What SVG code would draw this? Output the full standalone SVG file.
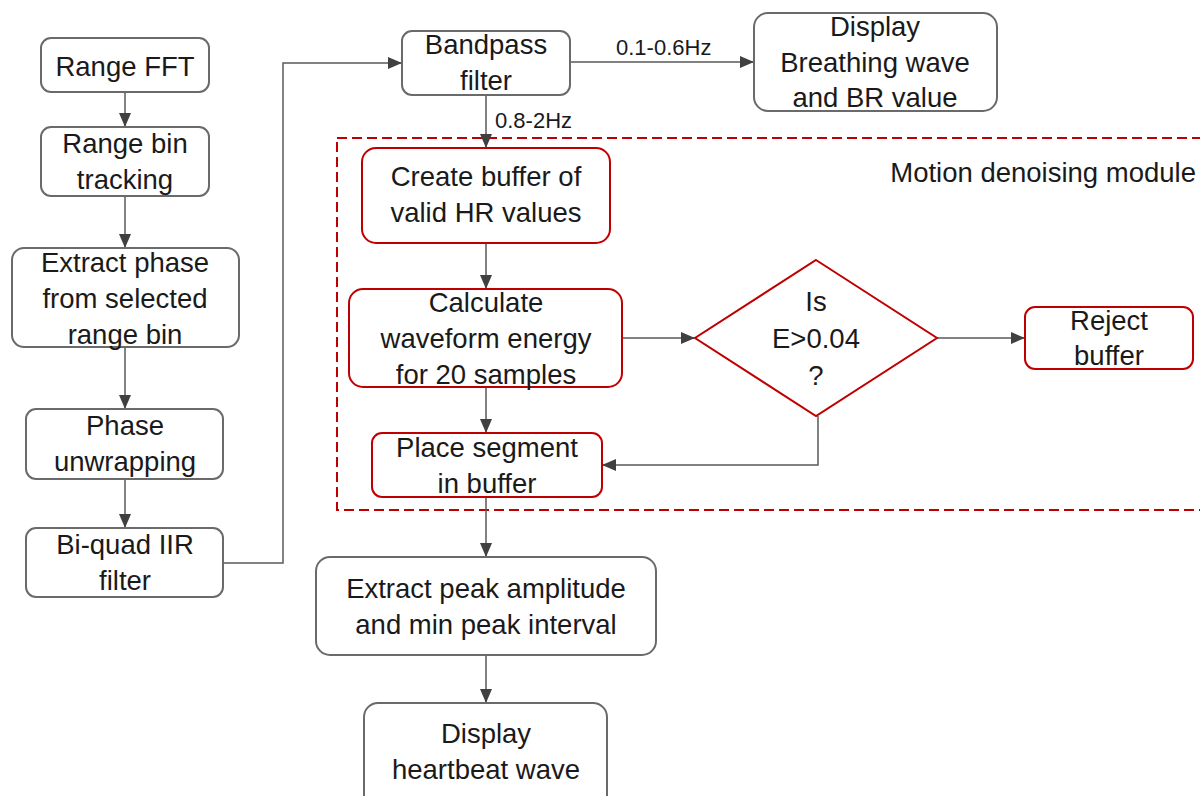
<svg xmlns="http://www.w3.org/2000/svg" width="1200" height="796" viewBox="0 0 1200 796">
<style>
.n{fill:#fff;stroke:#6a6a6a;stroke-width:2}
.r{fill:#fff;stroke:#c00000;stroke-width:2}
.t{font-family:"Liberation Sans",Arial,sans-serif;font-size:27.5px;fill:#1a1a1a;text-anchor:middle}
.s{font-family:"Liberation Sans",Arial,sans-serif;font-size:22px;fill:#1a1a1a}
.c{fill:none;stroke:#595959;stroke-width:1.5}
</style>
<defs>
<marker id="a" markerUnits="userSpaceOnUse" markerWidth="14" markerHeight="14" refX="14" refY="7" orient="auto">
<path d="M0,1 L14,7 L0,13 Z" fill="#404040"/>
</marker>
</defs>
<rect id="module" x="337" y="138" width="880" height="372" fill="none" stroke="#c00000" stroke-width="2" stroke-dasharray="10,5"/>
<text class="t" x="1196" y="182" style="text-anchor:end">Motion denoising module</text>
<g id="connectors">
<path class="c" d="M125,92 V127" marker-end="url(#a)"/>
<path class="c" d="M125,196 V248" marker-end="url(#a)"/>
<path class="c" d="M125,347 V409" marker-end="url(#a)"/>
<path class="c" d="M125,479 V528" marker-end="url(#a)"/>
<path class="c" d="M223,563 H283 V63 H402" marker-end="url(#a)"/>
<path class="c" d="M570,62 H754" marker-end="url(#a)"/>
<text class="s" x="616" y="55">0.1-0.6Hz</text>
<path class="c" d="M486,95 V148" marker-end="url(#a)"/>
<text class="s" x="495" y="128">0.8-2Hz</text>
<path class="c" d="M486,243 V289" marker-end="url(#a)"/>
<path class="c" d="M622,338 H695" marker-end="url(#a)"/>
<path class="c" d="M937,338 H1025" marker-end="url(#a)"/>
<path class="c" d="M818,416 V465 H602" marker-end="url(#a)"/>
<path class="c" d="M486,387 V433" marker-end="url(#a)"/>
<path class="c" d="M486,497 V557" marker-end="url(#a)"/>
<path class="c" d="M486,655 V703" marker-end="url(#a)"/>
</g>
<g id="range-fft"><rect class="n" x="41" y="38" width="168" height="54" rx="10"/><text class="t" x="125" y="76">Range FFT</text></g>
<g id="range-bin"><rect class="n" x="41" y="127" width="168" height="69" rx="10"/><text class="t" x="125" y="153">Range bin</text><text class="t" x="125" y="189">tracking</text></g>
<g id="extract-phase"><rect class="n" x="12" y="248" width="227" height="99" rx="12"/><text class="t" x="125" y="272">Extract phase</text><text class="t" x="125" y="308">from selected</text><text class="t" x="125" y="344">range bin</text></g>
<g id="phase-unwrap"><rect class="n" x="26" y="409" width="197" height="70" rx="10"/><text class="t" x="125" y="435">Phase</text><text class="t" x="125" y="471">unwrapping</text></g>
<g id="biquad"><rect class="n" x="26" y="528" width="197" height="69" rx="10"/><text class="t" x="125" y="554">Bi-quad IIR</text><text class="t" x="125" y="590">filter</text></g>
<g id="bandpass"><rect class="n" x="402" y="31" width="168" height="64" rx="10"/><text class="t" x="486" y="54">Bandpass</text><text class="t" x="486" y="90">filter</text></g>
<g id="display-br"><rect class="n" x="754" y="13" width="243" height="98" rx="14"/><text class="t" x="875" y="36">Display</text><text class="t" x="875" y="72">Breathing wave</text><text class="t" x="875" y="107">and BR value</text></g>
<g id="create-buffer"><rect class="r" x="362" y="148" width="248" height="95" rx="14"/><text class="t" x="486" y="186">Create buffer of</text><text class="t" x="486" y="222">valid HR values</text></g>
<g id="calculate"><rect class="r" x="349" y="289" width="273" height="98" rx="14"/><text class="t" x="486" y="312">Calculate</text><text class="t" x="486" y="348">waveform energy</text><text class="t" x="486" y="384">for 20 samples</text></g>
<g id="decision"><polygon class="r" points="816,260 937,338 816,416 695,338"/><text class="t" x="816" y="311">Is</text><text class="t" x="816" y="348">E&gt;0.04</text><text class="t" x="816" y="385">?</text></g>
<g id="reject"><rect class="r" x="1025" y="307" width="168" height="62" rx="10"/><text class="t" x="1109" y="330">Reject</text><text class="t" x="1109" y="365">buffer</text></g>
<g id="place-segment"><rect class="r" x="372" y="433" width="230" height="64" rx="10"/><text class="t" x="487" y="457">Place segment</text><text class="t" x="487" y="493">in buffer</text></g>
<g id="extract-peak"><rect class="n" x="316" y="557" width="340" height="98" rx="14"/><text class="t" x="486" y="598">Extract peak amplitude</text><text class="t" x="486" y="634">and min peak interval</text></g>
<g id="display-hb"><rect class="n" x="364" y="703" width="243" height="110" rx="14"/><text class="t" x="486" y="743">Display</text><text class="t" x="486" y="779">heartbeat wave</text></g>
</svg>
